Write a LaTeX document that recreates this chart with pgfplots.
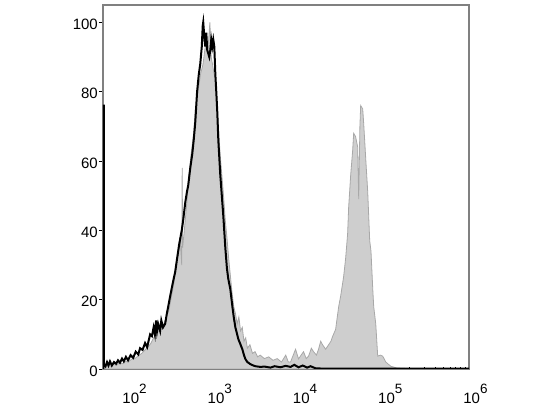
\documentclass[border=0pt]{standalone}
\usepackage{fontspec}
\setmainfont{Liberation Sans}
\usepackage{pgfplots}
\pgfplotsset{compat=1.18}
\definecolor{fillgray}{RGB}{206,206,206}
\definecolor{edgegray}{RGB}{168,168,168}
\definecolor{framegray}{RGB}{128,128,128}
\newcommand{\dec}[1]{10\raisebox{10pt}{\fontsize{13.5}{13.5}\selectfont #1}}
\begin{document}
\begin{tikzpicture}[x=1pt,y=1pt]
\useasboundingbox (0,0) rectangle (550,412);
\begin{axis}[
    at={(103pt,43pt)}, anchor=south west,
    scale only axis, width=366pt, height=364pt,
    xmin=1.706, xmax=6, ymin=0, ymax=105,
    axis line style={draw=framegray, line width=1.2pt},
    tick pos=left,
    xtick={2,3,4,5,6},
    xticklabels={\dec{2},\dec{3},\dec{4},\dec{5},\dec{6}},
    minor xtick={1.778,1.845,1.903,1.954,
                 2.301,2.477,2.602,2.699,2.778,2.845,2.903,2.954,
                 3.301,3.477,3.602,3.699,3.778,3.845,3.903,3.954,
                 4.301,4.477,4.602,4.699,4.778,4.845,4.903,4.954,
                 5.301,5.477,5.602,5.699,5.778,5.845,5.903,5.954},
    ytick={0,20,40,60,80,100},
    xtick align=inside, ytick align=outside,
    major tick length=4pt, minor tick length=2pt,
    tick style={black, line width=0.6pt},
    xticklabel style={font=\fontsize{15}{15}\selectfont, inner sep=0pt,
                      anchor=north, xshift=6.5pt, yshift=-15pt},
    yticklabel style={font=\fontsize{15}{15}\selectfont, inner sep=1pt,
                      anchor=east, yshift=-2pt},
    /pgf/number format/assume math mode=true,
]
% grey filled histogram
\addplot[fill=fillgray, draw=edgegray, line width=0.8pt] coordinates {
 (1.706,0)(1.706,1)(1.74,0.5)(1.77,1.2)(1.80,0.8)(1.83,1.5)(1.86,1)(1.90,1.8)
 (1.94,1.5)(1.97,2.2)(2.00,2)(2.04,2.8)(2.08,3)(2.12,3.8)(2.16,4.5)(2.20,5.5)
 (2.24,6.5)(2.27,7.5)(2.30,9)(2.33,10)(2.36,11)(2.39,12)(2.42,13)(2.45,15)
 (2.48,17)(2.51,21)(2.54,25)(2.56,30)(2.59,33)(2.61,38)(2.63,30)(2.635,58)
 (2.64,35)(2.66,40)(2.69,48)(2.71,55)(2.74,62)(2.77,68)(2.79,75)(2.82,80)
 (2.85,85)(2.88,88)(2.90,92)(2.92,95)(2.94,93)(2.96,100)(2.975,90)(2.99,88)
 (3.01,85)(3.024,84)(3.04,78)(3.059,70)(3.08,62)(3.10,56)(3.12,50)(3.14,43)
 (3.16,38)(3.18,32)(3.20,27)(3.22,22)(3.24,18)(3.26,16)(3.28,13)(3.30,15)
 (3.32,11)(3.34,12)(3.36,8)(3.38,9)(3.40,6)(3.43,7)(3.46,4.5)(3.49,5)
 (3.52,3.5)(3.55,4)(3.60,3)(3.65,3.5)(3.70,2.5)(3.75,3)(3.80,2)(3.85,4)
 (3.88,2)(3.906,2)(3.965,5.7)(4.00,2.9)(4.03,4)(4.059,5)(4.09,3)(4.118,3.7)
 (4.15,6)(4.176,5)(4.21,4)(4.235,5.7)(4.26,8)(4.282,7)(4.318,5.7)(4.353,7)
 (4.38,8)(4.40,9.4)(4.435,11.4)(4.471,18)(4.494,21)(4.529,26.6)(4.553,32)
 (4.576,39)(4.588,46.6)(4.612,56)(4.635,63)(4.647,68)(4.67,67)(4.694,64)
 (4.706,49)(4.72,70)(4.729,76)(4.753,75)(4.765,70.6)(4.79,60)(4.812,51)
 (4.835,37)(4.85,34)(4.871,23)(4.882,18)(4.906,13)(4.929,3.7)(4.96,4)
 (4.988,3.7)(5.024,2)(5.082,0.8)(5.15,0.3)(5.30,0.1)(6,0)
} \closedcycle;
% black outline histogram
\addplot[black, line width=2pt] coordinates {
 (1.71,0)(1.71,76)(1.715,76)(1.715,1.5)(1.735,0.8)(1.753,2)(1.77,1)(1.788,2.2)
 (1.81,1)(1.835,2)(1.86,1.5)(1.882,2.5)(1.905,1.8)(1.929,3)(1.95,2.2)
 (1.975,3.5)(2.00,2.5)(2.03,4)(2.06,3.2)(2.09,5)(2.12,4.2)(2.141,6)(2.17,5.5)
 (2.20,7.5)(2.224,6.3)(2.259,10)(2.28,9.5)(2.30,12)(2.315,10)(2.329,14)
 (2.34,11)(2.353,13)(2.376,11)(2.39,14)(2.41,12)(2.435,13)(2.455,16)
 (2.471,18)(2.494,21)(2.518,24)(2.535,26)(2.553,28)(2.576,32)(2.60,36)
 (2.63,40)(2.647,43)(2.671,48)(2.69,51)(2.706,53)(2.73,58)(2.753,62)
 (2.77,66)(2.788,71)(2.81,80)(2.83,85)(2.847,88)(2.865,93)(2.876,99)
 (2.882,100)(2.894,96)(2.906,93)(2.918,97)(2.929,92)(2.941,91)(2.953,90)
 (2.965,92)(2.976,95)(2.988,93)(3.00,95)(3.012,93)(3.024,85)(3.035,80)
 (3.047,74)(3.059,66)(3.082,56)(3.106,48)(3.118,44)(3.141,35)(3.16,29)
 (3.176,26)(3.20,23)(3.224,18)(3.24,15)(3.259,12)(3.28,10)(3.294,8.6)
 (3.32,7)(3.341,5.7)(3.36,4)(3.376,2.9)(3.40,2)(3.435,1.4)(3.47,1)
 (3.494,0.8)(3.553,0.6)(3.60,0.7)(3.671,0.4)(3.72,0.8)(3.788,0.5)(3.85,0.9)
 (3.906,0.6)(3.95,1.2)(4.00,0.5)(4.05,1)(4.10,0.4)(4.141,0.8)(4.20,0.2)
 (4.30,0.1)(4.50,0.1)(5.00,0.1)(6,0.1)
};
\end{axis}
\end{tikzpicture}
\end{document}
